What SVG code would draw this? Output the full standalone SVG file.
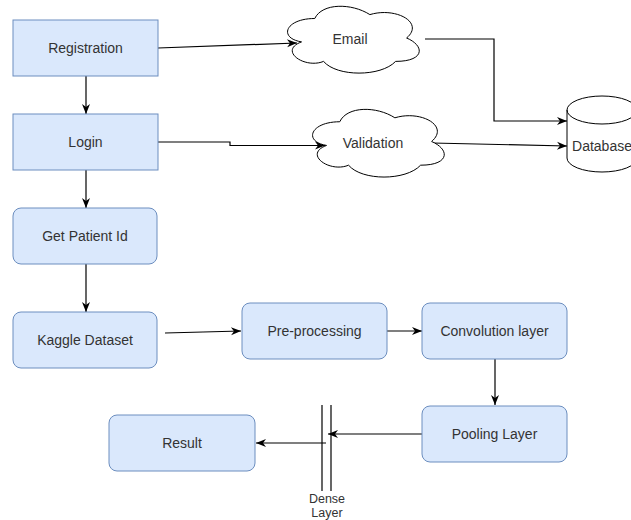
<svg xmlns="http://www.w3.org/2000/svg" width="631" height="520" viewBox="0 0 631 520">
<defs>
<style>
.box{fill:#dae8fc;stroke:#6c8ebf;stroke-width:1}
.shape{fill:#ffffff;stroke:#000000;stroke-width:1}
.lbl{font-family:"Liberation Sans",Arial,sans-serif;font-size:14px;fill:#333333;text-anchor:middle;dominant-baseline:central}
.small{font-size:12.5px}
.edge{fill:none;stroke:#000000;stroke-width:1.2}
</style>
<marker id="arr" markerUnits="userSpaceOnUse" markerWidth="12" markerHeight="10" refX="10" refY="4" orient="auto" overflow="visible">
<path d="M0,0 L10,4 L0,8 L3,4 Z" fill="#000000"/>
</marker>
</defs>
<rect width="631" height="520" fill="#ffffff"/>

<g id="connectors">
<path class="edge" d="M86,76 V114" marker-end="url(#arr)"/>
<path class="edge" d="M86,170 V208" marker-end="url(#arr)"/>
<path class="edge" d="M86,264 V312" marker-end="url(#arr)"/>
<path class="edge" d="M158,48 L297,43" marker-end="url(#arr)"/>
<path class="edge" d="M158,142 H230 V145.5 H325" marker-end="url(#arr)"/>
<path class="edge" d="M425,39 H494 V121 H567" marker-end="url(#arr)"/>
<path class="edge" d="M432,143 L567,146" marker-end="url(#arr)"/>
<path class="edge" d="M165,333 L241,331" marker-end="url(#arr)"/>
<path class="edge" d="M387,331 H422" marker-end="url(#arr)"/>
<path class="edge" d="M495,359 V405" marker-end="url(#arr)"/>
<path class="edge" d="M422,434 H328" marker-end="url(#arr)"/>
<path class="edge" d="M326,443 H256" marker-end="url(#arr)"/>
</g>

<g id="registration">
<rect class="box" x="13" y="20" width="145" height="56"/>
<text class="lbl" x="85.5" y="48">Registration</text>
</g>
<g id="login">
<rect class="box" x="13" y="114" width="145" height="56"/>
<text class="lbl" x="85.5" y="142">Login</text>
</g>
<g id="get-patient-id">
<rect class="box" x="13" y="208" width="144" height="56" rx="8"/>
<text class="lbl" x="85" y="236">Get Patient Id</text>
</g>
<g id="kaggle-dataset">
<rect class="box" x="13" y="312" width="144" height="56" rx="8"/>
<text class="lbl" x="85" y="340">Kaggle Dataset</text>
</g>
<g id="pre-processing">
<rect class="box" x="242" y="303" width="145" height="56" rx="8"/>
<text class="lbl" x="314.5" y="331">Pre-processing</text>
</g>
<g id="convolution-layer">
<rect class="box" x="422" y="303" width="145" height="56" rx="8"/>
<text class="lbl" x="494.5" y="331">Convolution layer</text>
</g>
<g id="pooling-layer">
<rect class="box" x="422" y="406" width="145" height="56" rx="8"/>
<text class="lbl" x="494.5" y="434">Pooling Layer</text>
</g>
<g id="result">
<rect class="box" x="109" y="415" width="146" height="56" rx="8"/>
<text class="lbl" x="182" y="443">Result</text>
</g>
<g id="dense-layer">
<line x1="322" y1="405" x2="322" y2="491" stroke="#000000" stroke-width="1.2"/>
<line x1="331" y1="405" x2="331" y2="491" stroke="#000000" stroke-width="1.2"/>
<text class="lbl small" x="327" y="499">Dense</text>
<text class="lbl small" x="327" y="512.5">Layer</text>
</g>
<g id="email">
<path class="shape" transform="translate(278,-1) scale(147,78)" vector-effect="non-scaling-stroke" d="M0.25,0.25 C0.05,0.25 0,0.5 0.16,0.55 C0,0.66 0.18,0.9 0.31,0.8 C0.4,1 0.7,1 0.8,0.8 C1,0.8 1,0.6 0.875,0.5 C1,0.3 0.8,0.1 0.625,0.2 C0.5,0.05 0.3,0.05 0.25,0.25 Z"/>
<text class="lbl" x="350" y="39">Email</text>
</g>
<g id="validation">
<path class="shape" transform="translate(303,102) scale(147,79)" vector-effect="non-scaling-stroke" d="M0.25,0.25 C0.05,0.25 0,0.5 0.16,0.55 C0,0.66 0.18,0.9 0.31,0.8 C0.4,1 0.7,1 0.8,0.8 C1,0.8 1,0.6 0.875,0.5 C1,0.3 0.8,0.1 0.625,0.2 C0.5,0.05 0.3,0.05 0.25,0.25 Z"/>
<text class="lbl" x="373" y="143">Validation</text>
</g>
<g id="database">
<path class="shape" d="M567,110 A35,14 0 0 1 637,110 V158 A35,14 0 0 1 567,158 Z"/>
<path fill="none" stroke="#000000" stroke-width="1" d="M567,110 A35,14 0 0 0 637,110"/>
<text class="lbl" x="602" y="146">Database</text>
</g>
</svg>
